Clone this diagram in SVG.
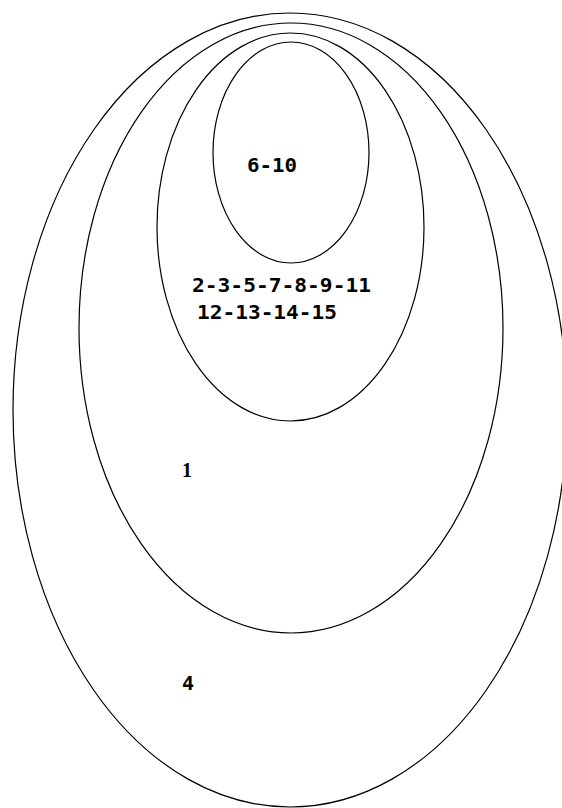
<svg xmlns="http://www.w3.org/2000/svg" width="562" height="808" viewBox="0 0 562 808">
<style>
.e{fill:none;stroke:#000;stroke-width:1.2}
.t{font-family:"DejaVu Sans Mono","Liberation Mono",monospace;font-weight:bold;font-size:20px;fill:#000}
.s{font-family:"Liberation Serif",serif;font-weight:bold;font-size:20px;fill:#000}
</style>
<rect width="562" height="808" fill="#fff"/>
<g id="set4"><ellipse class="e" cx="290" cy="410" rx="277" ry="397"/><text class="t" x="182" y="690">4</text></g>
<g id="set1"><ellipse class="e" cx="291" cy="328" rx="212" ry="305"/><text class="s" x="182" y="477">1</text></g>
<g id="set2"><ellipse class="e" cx="290.5" cy="227" rx="133.5" ry="194"/><text class="t" x="192" y="292" textLength="179" lengthAdjust="spacingAndGlyphs">2-3-5-7-8-9-11</text><text class="t" x="197" y="319" textLength="140" lengthAdjust="spacingAndGlyphs">12-13-14-15</text></g>
<g id="set6"><ellipse class="e" cx="291" cy="152.5" rx="78" ry="110.5"/><text class="t" x="247" y="172" textLength="50" lengthAdjust="spacingAndGlyphs">6-10</text></g>
</svg>
